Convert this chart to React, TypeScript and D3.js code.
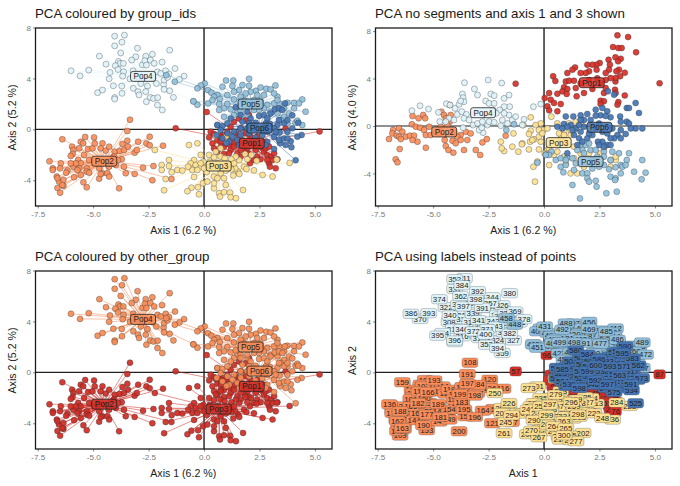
import React, { useEffect, useRef } from 'react'
import * as d3 from 'd3'

type Row = [number, number, number]

// axis 1 / axis 2 scores with individual id
const pop1Axis12: Row[] = [
  [0.12,1.36,96],[-1.28,0.08,57],[5.21,-0.16,87],[3.68,0.08,1],[0.3,-0.18,2],[0.45,-0.37,3],[0.23,-0.63,4],[0.6,-0.84,5],
  [0.38,-1.1,6],[0.75,-0.97,7],[0.9,-1.36,8],[1.17,-1.23,9],[1.35,-1.1,10],[1.2,-1.62,11],[1.13,-1.88,12],[0.9,-1.93,13],
  [1.5,-1.88,14],[1.65,-2.14,15],[1.88,-1.75,16],[1.95,-1.49,17],[2.4,-2.14,18],[2.7,-1.75,19],[2.85,-2.01,20],[3.03,-2.14,21],
  [3.31,-2.35,22],[2.93,-2.67,23],[3.08,-2.41,24],[2.97,-2.93,25],[3.23,-3.06,76],[2.55,-2.35,26],[2.25,-2.41,27],[2.07,-2.67,28],
  [1.65,-1.62,29],[1.43,-0.31,30],[1.65,0.08,31],[1.58,-0.58,32],[1.2,0.21,33],[1.05,-0.18,34],[0.83,-0.44,35],[1.35,0.6,36],
  [1.58,0.86,37],[1.88,0.73,38],[2.03,1.12,39],[0.75,-1.36,40],[1.05,-0.84,41],[1.8,-1.23,42],[2.55,-1.36,43],[2.78,-1.49,44],
  [2.33,-1.62,45],[2.03,-1.93,46],[2.18,-1.1,47],[1.35,-1.36,48],[2.93,-1.36,49],[2.7,-0.97,50],[0.45,-1.49,51],[0.6,-1.75,52],
  [2.4,-0.58,53],[3.16,-1.88,54],[2.85,-2.41,55],[1.88,-0.31,56],[2.1,-0.58,58],[0.75,-0.58,59],
]
const pop2Axis12: Row[] = [
  [-3.34,0.76,108],[-3.46,-0.13,191],[-6.39,-0.78,159],[-5.36,-0.6,101],[-4.96,-0.63,193],[-5.56,-0.97,102],[-5.95,-1.36,103],
  [-5.89,-1.62,104],[-5.93,-1.93,105],[-6.01,-2.09,106],[-5.45,-1.1,107],[-5.63,-1.49,110],[-5.68,-2.41,182],[-5.56,-2.67,111],
  [-5.23,-1.54,166],[-5.03,-1.49,112],[-4.93,-1.1,113],[-4.58,-1.1,114],[-4.66,-1.49,115],[-4.43,-1.67,117],[-4.28,-1.36,118],
  [-4.03,-1.75,119],[-3.8,-1.7,199],[-3.46,-0.89,197],[-3.68,-1.15,122],[-3.61,-1.62,123],[-3.43,-1.36,124],[-3.13,-1.83,198],
  [-2.97,-0.97,184],[-2.6,-1.1,125],[-2.45,-0.58,120],[-2.45,-1.25,126],[-1.85,-1.28,116],[-3.03,-1.62,127],[-3.71,-2.35,183],
  [-6.97,-2.51,136],[-6.46,-2.67,128],[-6.82,-3.06,129],[-6.82,-3.19,130],[-6.49,-3.06,188],[-6.16,-3.24,131],[-6.22,-3.4,132],
  [-5.89,-2.93,133],[-5.63,-3.06,134],[-5.29,-3.06,135],[-5.29,-3.32,177],[-5.56,-3.58,137],[-5.18,-3.4,138],[-5.78,-2.67,139],
  [-6.64,-3.71,140],[-6.54,-4.1,156],[-6.34,-3.97,141],[-6.61,-4.6,142],[-6.49,-4.97,109],[-6.34,-4.44,143],[-5.44,-4.16,190],
  [-5.29,-4.55,153],[-5.86,-3.76,144],[-4.73,-3.87,145],[-4.58,-3.45,146],[-4.36,-3.45,147],[-4.66,-3.5,181],[-4.73,-3.06,148],
  [-4.78,-2.48,189],[-4.28,-3.71,149],[-3.83,-4.63,200],[-3.61,-2.93,195],[-3.53,-3.45,150],[-3.13,-3.5,196],[-2.75,-3.01,164],
  [-2.28,-2.88,151],[-2.33,-4.0,121],[-3.98,-2.8,152],[-4.28,-2.93,154],[-3.88,-2.41,155],[-4.06,-2.14,157],[-5.18,-2.41,158],
  [-5.41,-2.01,160],[-5.71,-3.19,161],[-6.61,-3.84,162],[-6.39,-4.37,163],[-6.01,-2.67,165],[-1.47,-3.9,167],
]
const pop3Axis12: Row[] = [
  [-2.22,-1.62,250],[-0.68,-1.23,273],[-0.3,-1.1,201],[-1.58,-2.41,226],[-1.91,-2.8,203],[-1.58,-2.88,204],[-1.91,-3.19,205],
  [-1.2,-3.19,206],[-0.98,-3.24,207],[-1.73,-3.9,245],[-1.8,-4.78,261],[-0.57,-4.58,270],[-0.75,-4.86,208],[-0.27,-4.55,209],
  [-0.23,-5.1,267],[-0.05,-4.24,210],[0.45,-4.63,211],[0.68,-5.02,212],[0.72,-5.28,214],[0.9,-4.94,300],[1.17,-4.97,215],
  [1.2,-5.33,216],[1.44,-5.41,277],[1.76,-4.76,202],[1.32,-3.63,217],[1.53,-3.32,298],[1.59,-3.5,218],[1.41,-3.06,219],
  [1.8,-2.93,220],[1.91,-3.11,221],[2.25,-3.22,222],[2.64,-3.58,248],[3.09,-3.71,236],[3.86,-2.64,223],[3.28,-2.38,284],
  [2.37,-2.46,213],[2.13,-2.01,224],[1.85,-1.93,225],[1.95,-2.35,227],[1.59,-2.41,228],[1.43,-2.14,229],[1.23,-2.35,296],
  [0.99,-0.58,230],[0.53,-0.5,231],[1.02,-0.97,232],[0.75,-1.49,233],[0.53,-1.75,279],[0.23,-2.01,234],[-0.15,-2.01,235],
  [-0.45,-2.41,237],[-0.6,-2.67,238],[-0.38,-2.8,239],[-0.53,-3.19,240],[-0.72,-2.93,241],[-0.3,-3.19,242],[-0.03,-2.54,243],
  [0.26,-2.54,297],[0.45,-2.2,244],[0.75,-2.14,246],[0.93,-2.27,247],[1.2,-2.8,249],[1.23,-3.14,251],[0.98,-3.24,252],
  [0.75,-3.45,253],[0.45,-3.71,254],[0.12,-3.35,299],[0,-3.06,255],[-0.15,-2.67,256],[-0.45,-3.74,290],[0.6,-2.67,257],
  [0.3,-2.93,258],[1.35,-2.67,259],[0.6,-3.84,260],[0.15,-4.1,262],[0.9,-3.84,263],[0.45,-4.24,264],[0.98,-4.37,265],[-1.46,-3.37,294],
]
const pop4Axis12: Row[] = [
  [-4.03,7.32,352],[-3.59,7.4,311],[-4.03,6.56,331],[-3.7,6.85,384],[-3.76,6.0,362],[-3.0,6.38,392],[-4.72,5.75,374],[-3.08,5.7,398],
  [-2.63,5.75,305],[-2.33,5.9,344],[-1.55,6.22,380],[-4.42,5.12,322],[-3.86,5.33,338],[-3.79,5.18,301],[-3.64,5.18,397],[-4.0,5.0,302],
  [-3.26,5.44,303],[-2.78,5.07,391],[-2.67,5.39,304],[-2.6,5.05,306],[-2.42,5.44,357],[-2.25,5.18,307],[-1.89,5.28,326],
  [-6.0,4.6,386],[-5.2,4.65,393],[-5.59,4.2,370],[-4.24,4.47,340],[-4.28,3.97,308],[-3.88,4.7,309],[-3.63,4.52,310],[-3.67,4.18,312],
  [-3.71,3.4,346],[-4.09,3.42,313],[-4.8,2.88,395],[-4.58,3.09,314],[-4.03,2.5,396],[-4.03,2.38,315],[-3.7,2.83,316],[-3.34,3.97,317],
  [-3.19,3.22,372],[-2.98,2.96,318],[-2.93,2.7,319],[-2.85,3.6,320],[-2.55,3.4,371],[-2.63,2.96,400],[-2.43,2.5,321],[-2.6,2.17,353],
  [-2.28,2.43,323],[-2.09,2.49,324],[-1.88,1.52,359],[-2.1,1.91,394],[-1.82,3.53,325],[-1.8,3.14,328],[-1.55,3.03,382],[-1.38,2.51,327],
  [-2.1,4.52,329],[-1.95,4.39,330],[-1.73,4.6,332],[-1.58,4.34,333],[-1.31,4.78,369],[-1.8,3.87,334],[-1.65,4.08,335],[-0.9,4.18,378],
  [-1.11,3.92,336],[-0.48,2.2,337],[-3.2,4.6,339],[-2.95,4.1,341],[-2.3,4.0,342],[-2.15,3.6,343],
]
const pop5Axis12: Row[] = [
  [0.03,3.61,431],[-0.15,3.45,401],[-0.3,3.22,402],[0.18,3.08,403],[0.33,2.88,404],[-0.3,1.93,451],[-0.48,2.2,405],[0.18,2.04,406],
  [0.99,3.84,488],[1.32,3.84,407],[0.83,3.35,492],[1.28,3.4,408],[2.03,3.97,456],[2.03,3.42,469],[1.73,3.48,409],[2.34,3.03,410],
  [2.55,3.29,411],[2.81,3.19,485],[3.22,3.45,412],[3.0,3.14,413],[3.31,2.56,486],[3.16,2.82,414],[2.7,2.69,415],[2.4,2.69,416],
  [2.1,2.95,417],[1.88,2.82,418],[1.58,3.08,419],[1.35,2.95,420],[1.05,2.69,421],[0.6,2.69,422],[0.45,2.56,423],[0.71,2.38,499],
  [1.35,2.35,498],[0.68,1.99,424],[1.05,1.99,425],[0.9,1.65,426],[0.68,1.52,427],[1.2,1.57,428],[1.5,1.39,429],[4.43,2.35,489],
  [4.58,1.39,472],[4.06,2.07,430],[3.76,2.09,432],[4.28,2.04,433],[3.61,1.65,434],[3.38,2.04,435],[3.16,2.04,436],[2.85,1.91,437],
  [2.7,1.65,438],[2.48,1.52,439],[2.25,1.52,440],[1.95,1.12,441],[1.35,1.12,442],[1.65,1.39,443],[4.13,0.52,444],[3.76,0.47,445],
  [4.21,0.68,446],[4.43,0.34,447],[3.61,0.99,449],[3.31,1.25,450],[3.0,1.39,452],[0.6,0.34,453],[0.9,0.99,454],[1.8,2.3,491],
  [2.55,2.25,477],[3.31,2.3,455],[3.83,1.25,457],[3.46,0.73,459],[4.06,1.65,460],[2.25,2.3,461],[0.38,2.3,462],[1.65,2.56,463],
  [-1.7,4.26,458],[-1.32,3.74,448],
]
const pop6Axis12: Row[] = [
  [0.6,0.34,501],[0.83,0.26,585],[1.05,0.47,502],[1.2,0.86,503],[1.43,1.73,580],[1.65,1.12,504],[1.73,0.6,505],[1.95,1.39,584],
  [2.1,0.86,506],[2.48,1.05,586],[2.7,1.12,507],[3.0,1.25,508],[3.19,1.57,509],[3.65,2.04,590],[3.38,1.65,510],[3.53,1.52,595],
  [3.98,1.1,583],[4.25,0.52,562],[4.4,-0.44,573],[4.21,-0.58,511],[4.13,-2.43,525],[3.91,-0.94,591],[3.94,-1.41,534],[3.68,-1.23,512],
  [3.43,-1.1,514],[3.16,-1.54,575],[2.85,-0.97,597],[3.16,-0.58,515],[3.41,-0.24,563],[3.76,-0.18,516],[3.98,0.08,517],[3.61,0.47,571],
  [3.31,0.34,518],[2.97,0.44,593],[2.78,0.47,519],[2.33,0.52,600],[1.95,0.08,599],[1.35,-0.18,520],[1.28,-0.58,521],[1.05,-0.31,522],
  [0.75,-0.05,523],[0.57,-0.44,513],[0.83,-0.71,524],[1.5,-0.84,526],[1.65,-0.44,527],[2.31,-0.63,592],[2.63,-0.44,528],[2.85,-0.18,529],
  [3.16,0.08,530],[3.38,0.73,531],[3.76,0.73,532],[2.85,0.86,533],[2.03,-0.31,536],[2.4,-0.05,537],[2.63,0.08,538],[1.13,-0.97,539],
  [1.01,-1.07,535],[3.38,-0.84,540],[3.61,-0.71,541],[3.23,-0.18,542],[3.76,-0.71,543],[2.78,-1.23,544],[2.48,-0.97,545],[2.18,-0.97,546],
  [1.59,-1.23,598],[1.65,0.08,547],[2.03,0.47,548],
]

// axis 1 / axis 3 scores
const pop1Axis13 = [
  [3.31,7.64],[3.79,7.5],[3.11,6.66],[3.35,6.57],[3.5,6.57],[4.15,6.21],[3.22,5.79],[3.46,5.67],[3.34,5.45],[2.91,5.59],[2.97,5.17],
  [3.38,4.75],[3.26,4.61],[3.64,4.49],[2.93,4.75],[2.78,4.47],[3.43,4.19],[3.22,3.76],[3.23,4.04],[3.0,4.04],[3.2,3.06],[3.64,2.58],
  [5.21,3.6],[2.51,5.31],[2.36,5.17],[2.18,5.17],[1.95,5.17],[2.37,4.75],[2.03,4.61],[1.88,4.47],[1.65,4.47],[1.4,4.94],[1.28,4.75],
  [1.05,4.47],[0.41,4.19],[0.51,3.79],[0.98,3.76],[1.13,3.82],[1.35,3.82],[0.9,3.26],[0.83,2.92],[1.05,3.12],[1.02,2.7],[1.43,3.2],
  [1.47,2.5],[1.8,2.78],[2.18,3.12],[2.7,2.78],[2.78,3.2],[3.23,2.78],[3.35,2.02],[3.31,1.8],[2.55,2.13],[2.7,2.08],[2.55,1.85],
  [0.6,2.72],[0.23,2.78],[0.03,2.36],[0.3,2.22],[0.45,1.94],[0.75,1.85],[0.15,1.66],[0.23,1.32],[0.6,1.24],[-1.28,3.57],[1.65,3.6],
  [2.03,3.88],[2.55,3.6],[2.78,3.88],[2.4,4.02],
]
const pop2Axis13 = [
  [-5.93,0.84],[-5.66,0.65],[-5.45,0.93],[-5.36,0.65],[-5.96,0.14],[-5.78,-0.06],[-5.59,-0.14],[-5.18,-0.06],[-5.41,-0.34],[-6.54,-0.2],
  [-6.81,-0.34],[-6.84,-0.62],[-6.64,-0.81],[-6.39,-0.48],[-6.54,-0.9],[-6.24,-0.9],[-6.99,-1.1],[-6.46,-1.1],[-6.05,-0.81],[-5.86,-0.81],
  [-5.71,-1.32],[-5.93,-1.18],[-5.33,-0.76],[-5.11,-0.76],[-6.51,-1.94],[-6.69,-2.81],[-6.61,-3.06],[-5.33,-1.83],[-4.25,1.77],[-4.63,1.21],
  [-4.51,0.93],[-4.43,0.65],[-4.25,0.37],[-4.66,-0.06],[-3.76,-0.76],[-3.53,-0.48],[-3.31,-0.62],[-3.91,-0.9],[-3.46,-1.18],[-3.76,-1.18],
  [-4.13,-1.24],[-4.48,-1.18],[-4.43,-1.69],[-4.31,-2.02],[-4.09,-2.25],[-3.61,-2.02],[-3.08,-2.02],[-2.88,-2.44],[-2.78,-1.38],[-2.58,-1.1],
  [-1.73,-0.81],[-4.21,0.93],[-4.36,0.08],[-4.73,-0.62],[-4.06,-0.48],[-4.88,-0.48],[-3.98,-1.46],
]
const pop3Axis13 = [
  [-0.6,0.73],[-0.93,0.08],[-0.15,0.22],[-0.38,0.08],[-0.03,-0.34],[-0.23,-0.34],[-0.6,-0.39],[-0.68,-0.67],[-0.45,-1.12],[-0.63,-1.32],
  [-0.98,-1.46],[-0.68,-1.97],[-0.23,-1.97],[0.15,-2.02],[0.03,-2.3],[-0.3,-3.0],[-0.48,-3.43],[-0.41,-4.69],[0.23,-3.29],[0.33,0.79],
  [0.6,0.22],[0.9,-0.48],[0.75,-1.04],[1.2,-0.76],[1.35,-0.34],[1.43,0.37],[1.13,0.22],[1.2,-3.99],[1.5,-3.99],[1.8,-3.43],[0.98,-3.15],
  [1.65,-2.3],[1.35,-2.72],[3.23,-2.87],[3.0,-3.43],[2.55,-2.3],[0.9,-2.58],[-1.95,-1.32],[-1.8,-2.11],[-1.91,-1.88],[-1.43,-1.74],
  [-1.16,-2.16],[-1.0,-1.54],[-1.38,-0.62],[0.68,-0.62],[1.2,-0.34],[0.9,-0.76],[0.45,-2.44],[0.23,-1.88],[0.6,-2.16],[1.35,-1.74],
  [1.65,0.22],[2.03,-2.3],[2.7,-1.88],[3.23,-2.58],[3.0,-2.87],[-0.15,-1.32],[-0.53,-1.18],[-0.23,-0.9],[0.15,-0.2],[-0.08,-0.62],
]
const pop4Axis13 = [
  [-3.59,3.65],[-2.52,3.88],[-1.91,3.62],[-3.14,3.12],[-3.0,2.61],[-3.68,2.7],[-3.65,2.39],[-3.61,2.05],[-2.4,2.7],[-2.25,2.56],[-1.8,2.33],
  [-1.58,2.61],[-1.55,1.63],[-5.96,1.29],[-5.59,1.71],[-5.21,1.43],[-4.76,1.15],[-4.4,1.88],[-4.24,1.77],[-4.01,1.49],[-3.83,1.83],[-3.76,2.11],
  [-3.91,0.98],[-4.28,0.65],[-4.7,0.37],[-4.06,0.51],[-3.71,1.21],[-3.5,0.98],[-3.61,0.65],[-3.38,0.51],[-4.43,0.37],[-3.65,-0.14],[-2.75,-0.56],
  [-2.93,-0.34],[-3.2,0.08],[-3.0,0.22],[-2.81,-0.14],[-2.55,0.08],[-2.48,0.37],[-2.25,0.31],[-1.95,0.03],[-1.65,0.22],[-1.43,0.51],[-1.28,0.79],
  [-0.9,0.56],[-0.98,0.08],[-2.63,2.11],[-2.48,1.91],[-1.8,1.63],[-2.0,1.35],[-2.15,1.07],[-2.3,1.35],[-1.58,0.93],[-1.8,1.07],[-1.88,0.51],
  [-2.25,1.91],[-2.78,0.37],[-0.48,1.63],[-0.15,1.85],
]
const pop5Axis13 = [
  [0.08,-2.39],[0.33,-2.16],[0.53,-2.87],[0.23,-2.44],[0.75,-3.43],[0.87,-3.9],[1.05,-2.67],[0.98,-3.29],[1.28,-2.72],[1.43,-3.15],[1.35,-3.71],
  [1.62,-1.6],[1.88,-1.6],[2.03,-1.46],[1.73,-2.02],[2.1,-2.02],[1.73,-3.99],[1.95,-3.99],[2.18,-3.57],[1.95,-4.41],[2.03,-4.69],[2.33,-4.61],
  [2.37,-5.11],[2.81,-5.67],[3.28,-5.53],[1.62,-6.1],[1.28,-4.97],[2.7,-3.29],[2.93,-3.65],[3.0,-4.27],[3.23,-4.41],[3.2,-4.55],[3.23,-3.48],
  [3.46,-3.29],[3.53,-3.43],[3.73,-2.87],[3.83,-2.3],[3.38,-2.3],[3.08,-2.16],[3.0,-2.87],[4.06,-3.85],[4.43,-2.87],[4.4,-4.49],[4.58,-3.93],
  [0.75,-2.72],[0.98,-2.87],[1.5,-2.02],[2.48,-3.43],[3.68,-3.29],[3.46,-3.99],[2.7,-2.16],[2.33,-2.02],[1.8,-2.3],[2.4,-2.58],[2.18,-2.87],
  [2.7,-2.58],[-1.7,-0.34],[-1.35,0.14],[-0.3,-3.09],[0.08,-2.44],
]
const pop6Axis13 = [
  [2.88,2.92],[3.16,2.64],[4.13,1.94],[3.73,1.52],[3.83,1.52],[4.28,1.1],[2.33,1.38],[2.63,1.52],[2.85,1.24],[1.65,0.9],[1.95,1.01],[0.98,0.81],
  [1.32,0.81],[3.43,0.81],[2.55,0.9],[3.0,0.73],[2.33,0.87],[2.78,0.84],[3.73,0.37],[3.83,0.22],[4.13,-0.2],[4.43,-0.2],[3.91,-0.2],[3.46,-0.34],
  [3.31,-0.76],[3.68,-0.67],[3.46,-1.04],[3.16,-1.04],[3.0,-1.04],[2.85,-1.6],[2.63,-1.32],[2.43,-1.32],[2.48,-1.6],[3.0,-1.6],[2.7,-1.74],
  [1.43,-0.2],[1.65,-0.48],[1.8,-0.06],[1.58,0.08],[1.2,0.08],[0.9,0.17],[0.6,-0.06],[0.83,-0.2],[1.35,-0.76],[1.58,-1.04],[1.73,-1.32],[1.95,-1.04],
  [1.05,-2.3],[1.5,-1.6],[2.1,0.51],[2.18,-0.76],[2.33,-0.2],[2.03,-0.62],[1.8,0.51],[2.63,-0.48],[1.05,-0.06],[1.28,-0.34],[1.65,0.51],[2.85,-0.62],
  [3.08,-0.2],[3.46,0.37],[2.48,0.22],
]

const popNames = ['Pop1', 'Pop2', 'Pop3', 'Pop4', 'Pop5', 'Pop6']
const centroids12 = [[2.15, -1.1], [-4.5, -2.5], [0.66, -2.88], [-2.75, 4.16], [2.1, 1.99], [2.5, 0.1]]
const centroids13 = [[2.15, 3.65], [-4.5, -0.5], [0.66, -1.4], [-2.75, 1.12], [2.1, -3.0], [2.5, -0.11]]
const groupColours = ['#d73027', '#fc8d59', '#fee090', '#e0f3f8', '#91bfdb', '#4575b4']
const otherGroupColours = ['#cf2d24', '#cf2d24', '#cf2d24', '#f58b55', '#f58b55', '#f58b55']

const axis1Ticks = [-7.5, -5, -2.5, 0, 2.5, 5]
const axis2Ticks = [-4, 0, 4, 8]
const axis3Ticks = [-4, 0, 4, 8]

const scores12 = [pop1Axis12, pop2Axis12, pop3Axis12, pop4Axis12, pop5Axis12, pop6Axis12]
const scores13 = [pop1Axis13, pop2Axis13, pop3Axis13, pop4Axis13, pop5Axis13, pop6Axis13]

const font = '"Liberation Sans", Arial, sans-serif'
const pad = { left: 35.5, right: 332, top: 28, bottom: 206 }

type PanelOpts = {
  title: string
  dx: number
  dy: number
  yDomain: [number, number]
  yRangeTop: number
  yTicks: number[]
  xLabel: string
  yLabel: string
}

const drawFrame = (svg: any, o: PanelOpts) => {
  const g = svg.append('g').attr('transform', `translate(${o.dx},${o.dy})`)
  const x = d3.scaleLinear().domain([-7.6, 5.77]).range([pad.left, pad.right])
  const y = d3.scaleLinear().domain(o.yDomain).range([pad.bottom, o.yRangeTop])

  g.append('line').attr('x1', x(0)).attr('x2', x(0)).attr('y1', pad.top).attr('y2', pad.bottom)
    .attr('stroke', '#3c3c3c').attr('stroke-width', 1.6)
  g.append('line').attr('x1', pad.left).attr('x2', pad.right).attr('y1', y(0)).attr('y2', y(0))
    .attr('stroke', '#222').attr('stroke-width', 1.2)

  const xAxis = g.append('g').attr('transform', `translate(0,${pad.bottom})`)
    .call(d3.axisBottom(x).tickValues(axis1Ticks).tickSize(2.5).tickFormat((d: any) => d.toFixed(1)))
  const yAxis = g.append('g').attr('transform', `translate(${pad.left},0)`)
    .call(d3.axisLeft(y).tickValues(o.yTicks).tickSize(2.5).tickFormat((d: any) => String(d)))
  for (const a of [xAxis, yAxis]) {
    a.select('.domain').remove()
    a.selectAll('line').attr('stroke', '#555').attr('stroke-width', 0.7)
    a.selectAll('text').attr('fill', '#7a7a7a').attr('font-size', 8.1).attr('font-family', font)
  }
  xAxis.selectAll('text').attr('dy', '0.71em').attr('y', 5)
  yAxis.selectAll('text').attr('x', -4.5)

  g.append('text').attr('x', 35).attr('y', 17.5).attr('font-size', 13.3).attr('fill', '#1a1a1a')
    .attr('font-family', font).text(o.title)
  g.append('text').attr('x', (pad.left + pad.right) / 2 - 0.5).attr('y', 233.5).attr('text-anchor', 'middle')
    .attr('font-size', 10.6).attr('fill', '#222').attr('font-family', font).text(o.xLabel)
  g.append('text').attr('transform', `translate(16,${(pad.top + pad.bottom) / 2 + 0.5}) rotate(-90)`)
    .attr('text-anchor', 'middle').attr('font-size', 10.6).attr('fill', '#222').attr('font-family', font).text(o.yLabel)

  return { g, x, y }
}

const drawBox = (g: any) => {
  g.append('rect').attr('x', pad.left).attr('y', pad.top).attr('width', pad.right - pad.left)
    .attr('height', pad.bottom - pad.top).attr('fill', 'none').attr('stroke', '#1c1c1c').attr('stroke-width', 1.3)
}

const drawScatter = (svg: any, o: PanelOpts, data: number[][][], centres: number[][], colours: string[], segments: boolean) => {
  const { g, x, y } = drawFrame(svg, o)
  if (segments) {
    data.forEach((rows, i) => {
      g.append('g').selectAll('line').data(rows).enter().append('line')
        .attr('x1', (d: number[]) => x(d[0])).attr('y1', (d: number[]) => y(d[1]))
        .attr('x2', x(centres[i][0])).attr('y2', y(centres[i][1]))
        .attr('stroke', colours[i]).attr('stroke-opacity', 0.75).attr('stroke-width', 0.7)
    })
  }
  data.forEach((rows, i) => {
    g.append('g').selectAll('circle').data(rows).enter().append('circle')
      .attr('cx', (d: number[]) => x(d[0])).attr('cy', (d: number[]) => y(d[1])).attr('r', 3)
      .attr('fill', colours[i]).attr('fill-opacity', 0.92)
      .attr('stroke', '#1f2a30').attr('stroke-opacity', 0.65).attr('stroke-width', 0.5)
  })
  popNames.forEach((name, i) => {
    const cx = x(centres[i][0])
    const cy = y(centres[i][1])
    g.append('rect').attr('x', cx - 12.5).attr('y', cy - 5).attr('width', 25).attr('height', 10).attr('rx', 2.5)
      .attr('fill', colours[i]).attr('fill-opacity', 0.85).attr('stroke', '#222').attr('stroke-width', 0.8)
    g.append('text').attr('x', cx).attr('y', cy + 2.9).attr('text-anchor', 'middle').attr('font-size', 8.2)
      .attr('fill', '#222').attr('font-family', font).text(name)
  })
  drawBox(g)
}

const drawLabels = (svg: any, o: PanelOpts, data: Row[][], colours: string[]) => {
  const { g, x, y } = drawFrame(svg, o)
  data.forEach((rows, i) => {
    const sorted = [...rows].sort((a, b) => d3.ascending(a[2], b[2]))
    const cell = g.append('g').selectAll('g').data(sorted).enter().append('g')
      .attr('transform', (d: Row) => `translate(${x(d[0])},${y(d[1])})`)
    cell.append('rect')
      .attr('x', (d: Row) => (d[2] < 100 ? -5.8 : -8)).attr('y', -4.7)
      .attr('width', (d: Row) => (d[2] < 100 ? 11.6 : 16)).attr('height', 9.4).attr('rx', 2.4)
      .attr('fill', colours[i]).attr('stroke', '#33434d').attr('stroke-opacity', 0.55).attr('stroke-width', 0.5)
    cell.append('text').attr('y', 2.7).attr('text-anchor', 'middle').attr('font-size', 7.8)
      .attr('fill', '#222').attr('font-family', font).text((d: Row) => d[2])
  })
  drawBox(g)
}

const App = () => {
  const ref = useRef<SVGSVGElement>(null)

  useEffect(() => {
    const svg = d3.select(ref.current)
    svg.selectAll('*').remove()

    const axis12 = { yDomain: [-6.02, 8] as [number, number], yRangeTop: 27.5, yTicks: axis2Ticks }
    const axis13 = { yDomain: [-6.74, 8.26] as [number, number], yRangeTop: 28, yTicks: axis3Ticks }

    drawScatter(svg, { ...axis12, title: 'PCA coloured by group_ids', dx: 0, dy: 0, xLabel: 'Axis 1 (6.2 %)', yLabel: 'Axis 2 (5.2 %)' },
      scores12, centroids12, groupColours, true)
    drawScatter(svg, { ...axis13, title: 'PCA no segments and axis 1 and 3 shown', dx: 340, dy: 0, xLabel: 'Axis 1 (6.2 %)', yLabel: 'Axis 3 (4.0 %)' },
      scores13, centroids13, groupColours, false)
    drawScatter(svg, { ...axis12, title: 'PCA coloured by other_group', dx: 0, dy: 243, xLabel: 'Axis 1 (6.2 %)', yLabel: 'Axis 2 (5.2 %)' },
      scores12, centroids12, otherGroupColours, true)
    drawLabels(svg, { ...axis12, title: 'PCA using labels instead of points', dx: 340, dy: 243, xLabel: 'Axis 1', yLabel: 'Axis 2' },
      scores12, groupColours)
  }, [])

  return (
    <svg
      ref={ref}
      width={680}
      height={486}
      style={{ position: 'absolute', left: 0, top: 0, background: '#fff' }}
    />
  )
}

export default App
